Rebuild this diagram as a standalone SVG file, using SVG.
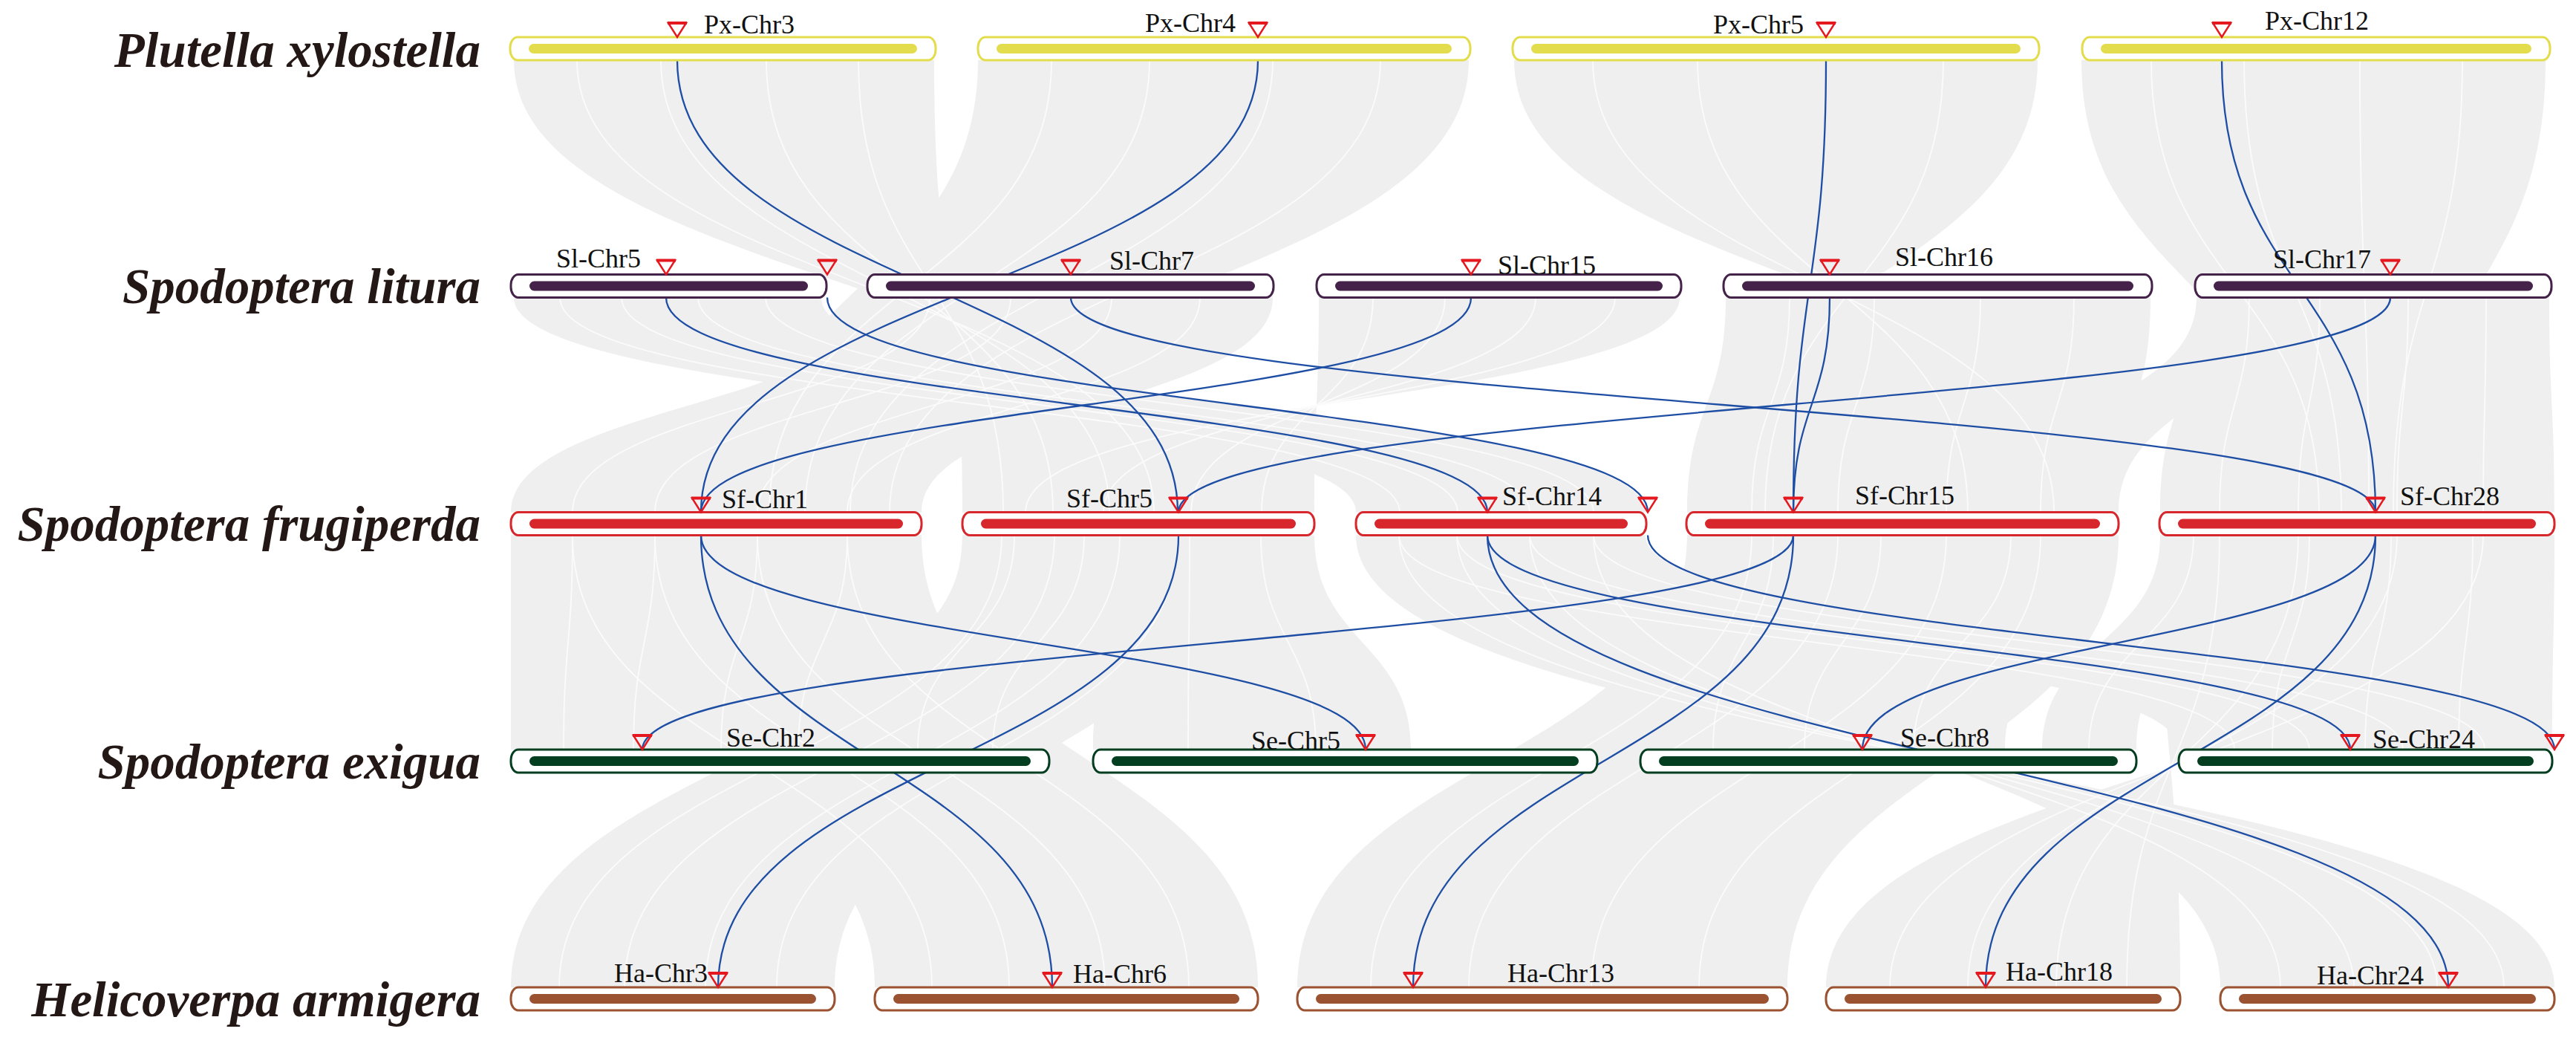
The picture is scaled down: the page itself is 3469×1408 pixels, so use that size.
<svg xmlns="http://www.w3.org/2000/svg" width="3469" height="1408" viewBox="0 0 3469 1408">
<defs>
<style>
.band{fill:#efefef;stroke:none}
.st{fill:none;stroke:#fbfbfb;stroke-width:1.8}
.lnk{fill:none;stroke:#1e4ea4;stroke-width:2.3}
.sp{font-family:"Liberation Serif","Times New Roman",serif;font-weight:bold;font-style:italic;font-size:67px;fill:#231815;text-anchor:end}
.lb{font-family:"Liberation Serif","Times New Roman",serif;font-size:36px;fill:#111}
.o{fill:#fff;stroke-width:3}
.px .o{stroke:#e3dd4e}.px .i{fill:#e3dd4e}
.sl .o{stroke:#45224a}.sl .i{fill:#45224a}
.sf .o{stroke:#d8272c}.sf .i{fill:#d8272c}
.se .o{stroke:#043e21}.se .i{fill:#043e21}
.ha .o{stroke:#9b5230}.ha .i{fill:#9b5230}
</style>
<g id="tri"><polygon points="-12,-19 12,-19 0,0" fill="none" stroke="#e5171f" stroke-width="2.5"/><line x1="-13" y1="-19" x2="13" y2="-19" stroke="#e5171f" stroke-width="4"/></g>
</defs>
<rect width="3469" height="1408" fill="#fff"/>

<g id="synteny-bands">
<!-- Px -> Sf -->
<path class="band" d="M692,81 C692,385 1600,385 1600,689.5 L1296,689.5 C1296,385 1258,385 1258,81 Z"/>
<path class="band" d="M1317,81 C1317,385 1000,385 1000,689.5 L1241,689.5 C1241,385 1978,385 1978,81 Z"/>
<path class="band" d="M2039,81 C2039,385 2853,385 2853,689.5 L2272,689.5 C2272,385 2744,385 2744,81 Z"/>
<path class="band" d="M2803,81 C2803,385 3100,385 3100,689.5 L3250,689.5 C3250,385 3428,385 3428,81 Z"/>
<!-- Sl -> Sf -->
<path class="band" d="M692,400.5 C692,545 1826,545 1826,689.5 L2216,689.5 C2216,545 1106,545 1106,400.5 Z"/>
<path class="band" d="M1171,400.5 C1171,545 688,545 688,689.5 L1241,689.5 C1241,545 1714,545 1714,400.5 Z"/>
<path class="band" d="M1776,400.5 C1776,545 1770,545 1770,689.5 L1296,689.5 C1296,545 2262,545 2262,400.5 Z"/>
<path class="band" d="M2324,400.5 C2324,545 2272,545 2272,689.5 L2853,689.5 C2853,545 2896,545 2896,400.5 Z"/>
<path class="band" d="M2958,400.5 C2958,545 2909,545 2909,689.5 L3440,689.5 C3440,545 3433,545 3433,400.5 Z"/>
<path class="band" d="M2958,400.5 C2958,545 2700,545 2700,689.5 L2853,689.5 C2853,545 3050,545 3050,400.5 Z"/>
<!-- Sf -> Se -->
<path class="band" d="M688,720.5 C688,865 688,865 688,1009 L1160,1009 C1160,865 1241,865 1241,720.5 Z"/>
<path class="band" d="M1296,720.5 C1296,865 1160,865 1160,1009 L1413,1009 C1413,865 1530,865 1530,720.5 Z"/>
<path class="band" d="M1530,720.5 C1530,865 1472,865 1472,1009 L1900,1009 C1900,865 1770,865 1770,720.5 Z"/>
<path class="band" d="M1826,720.5 C1826,865 2934,865 2934,1009 L3437,1009 C3437,865 2216,865 2216,720.5 Z"/>
<path class="band" d="M2272,720.5 C2272,865 2209,865 2209,1009 L2700,1009 C2700,865 2853,865 2853,720.5 Z"/>
<path class="band" d="M2909,720.5 C2909,865 2750,865 2750,1009 L2877,1009 C2877,865 3000,865 3000,720.5 Z"/>
<path class="band" d="M3000,720.5 C3000,865 2934,865 2934,1009 L3437,1009 C3437,865 3440,865 3440,720.5 Z"/>
<!-- Sf -> Ha -->
<path class="band" d="M1296,720.5 C1296,1025 688,1025 688,1329 L1124,1329 C1124,1025 1650,1025 1650,720.5 Z"/>
<path class="band" d="M688,720.5 C688,1025 1178,1025 1178,1329 L1694,1329 C1694,1025 1241,1025 1241,720.5 Z"/>
<path class="band" d="M2272,720.5 C2272,1025 1747,1025 1747,1329 L2407,1329 C2407,1025 2853,1025 2853,720.5 Z"/>
<path class="band" d="M2909,720.5 C2909,1025 2936,1025 2936,1329 L2459,1329 C2459,1025 3440,1025 3440,720.5 Z"/>
<path class="band" d="M1826,720.5 C1826,1025 3440,1025 3440,1329 L2990,1329 C2990,1025 2216,1025 2216,720.5 Z"/>
<!-- fibre texture -->
<path class="st" d="M777,81 C777,385 1554,385 1554,689.5 M890,81 C890,385 1494,385 1494,689.5 M1032,81 C1032,385 1418,385 1418,689.5 M1156,81 C1156,385 1351,385 1351,689.5"/>
<path class="st" d="M1416,81 C1416,385 1036,385 1036,689.5 M1548,81 C1548,385 1084,385 1084,689.5 M1714,81 C1714,385 1145,385 1145,689.5 M1859,81 C1859,385 1198,385 1198,689.5"/>
<path class="st" d="M2145,81 C2145,385 2766,385 2766,689.5 M2286,81 C2286,385 2650,385 2650,689.5 M2617,81 C2617,385 2377,385 2377,689.5"/>
<path class="st" d="M2897,81 C2897,385 3123,385 3123,689.5 M3022,81 C3022,385 3153,385 3153,689.5 M3178,81 C3178,385 3190,385 3190,689.5 M3316,81 C3316,385 3223,385 3223,689.5"/>
<path class="st" d="M754,400.5 C754,545 1885,545 1885,689.5 M837,400.5 C837,545 1963,545 1963,689.5 M940,400.5 C940,545 2060,545 2060,689.5 M1031,400.5 C1031,545 2146,545 2146,689.5"/>
<path class="st" d="M1252,400.5 C1252,545 771,545 771,689.5 M1361,400.5 C1361,545 882,545 882,689.5 M1497,400.5 C1497,545 1020,545 1020,689.5 M1616,400.5 C1616,545 1141,545 1141,689.5"/>
<path class="st" d="M1849,400.5 C1849,545 1699,545 1699,689.5 M1946,400.5 C1946,545 1604,545 1604,689.5 M2068,400.5 C2068,545 1486,545 1486,689.5 M2175,400.5 C2175,545 1381,545 1381,689.5"/>
<path class="st" d="M2410,400.5 C2410,545 2359,545 2359,689.5 M2524,400.5 C2524,545 2475,545 2475,689.5 M2667,400.5 C2667,545 2621,545 2621,689.5 M2793,400.5 C2793,545 2748,545 2748,689.5"/>
<path class="st" d="M3029,400.5 C3029,545 2989,545 2989,689.5 M3124,400.5 C3124,545 3095,545 3095,689.5 M3243,400.5 C3243,545 3228,545 3228,689.5 M3348,400.5 C3348,545 3344,545 3344,689.5"/>
<path class="st" d="M771,720.5 C771,865 759,865 759,1009 M882,720.5 C882,865 853,865 853,1009 M1020,720.5 C1020,865 971,865 971,1009 M1141,720.5 C1141,865 1075,865 1075,1009"/>
<path class="st" d="M1366,720.5 C1366,865 1236,865 1236,1009 M1460,720.5 C1460,865 1337,865 1337,1009 M1602,720.5 C1602,865 1600,865 1600,1009 M1698,720.5 C1698,865 1772,865 1772,1009"/>
<path class="st" d="M1884,720.5 C1884,865 3009,865 3009,1009 M1962,720.5 C1962,865 3110,865 3110,1009 M2060,720.5 C2060,865 3236,865 3236,1009 M2146,720.5 C2146,865 3346,865 3346,1009"/>
<path class="st" d="M2388,720.5 C2388,865 2307,865 2307,1009 M2533,720.5 C2533,865 2430,865 2430,1009 M2708,720.5 C2708,865 2577,865 2577,1009 M2954,720.5 C2954,865 2813,865 2813,1009"/>
<path class="st" d="M3110,720.5 C3110,865 3060,865 3060,1009 M3220,720.5 C3220,865 3185,865 3185,1009 M3330,720.5 C3330,865 3311,865 3311,1009"/>
<path class="st" d="M1349,720.5 C1349,1025 753,1025 753,1329 M1420,720.5 C1420,1025 841,1025 841,1329 M1508,720.5 C1508,1025 950,1025 950,1329 M1586,720.5 C1586,1025 1046,1025 1046,1329"/>
<path class="st" d="M771,720.5 C771,1025 1255,1025 1255,1329 M882,720.5 C882,1025 1359,1025 1359,1329 M1020,720.5 C1020,1025 1488,1025 1488,1329 M1141,720.5 C1141,1025 1601,1025 1601,1329"/>
<path class="st" d="M2359,720.5 C2359,1025 1846,1025 1846,1329 M2475,720.5 C2475,1025 1978,1025 1978,1329 M2621,720.5 C2621,1025 2143,1025 2143,1329 M2748,720.5 C2748,1025 2288,1025 2288,1329"/>
<path class="st" d="M2989,720.5 C2989,1025 2864,1025 2864,1329 M3095,720.5 C3095,1025 2769,1025 2769,1329 M3228,720.5 C3228,1025 2650,1025 2650,1329 M3344,720.5 C3344,1025 2545,1025 2545,1329"/>
<path class="st" d="M1884,720.5 C1884,1025 3372,1025 3372,1329 M1962,720.5 C1962,1025 3282,1025 3282,1329 M2060,720.5 C2060,1025 3170,1025 3170,1329 M2146,720.5 C2146,1025 3071,1025 3071,1329"/>
</g>

<g id="connectors">
<path class="lnk" d="M912,81 C912,385 1586,385 1586,689.5"/>
<path class="lnk" d="M1694,81 C1694,385 944,385 944,689.5"/>
<path class="lnk" d="M2459,81 C2459,385 2415,385 2415,689.5"/>
<path class="lnk" d="M2992,81 C2992,385 3199,385 3199,689.5"/>
<path class="lnk" d="M897,400.5 C897,545 2003,545 2003,689.5"/>
<path class="lnk" d="M1114,400.5 C1114,545 2219,545 2219,689.5"/>
<path class="lnk" d="M1442,400.5 C1442,545 3199,545 3199,689.5"/>
<path class="lnk" d="M1981,400.5 C1981,545 944,545 944,689.5"/>
<path class="lnk" d="M2464,400.5 C2464,545 2415,545 2415,689.5"/>
<path class="lnk" d="M3219,400.5 C3219,545 1587,545 1587,689.5"/>
<path class="lnk" d="M944,720.5 C944,1025 1417,1025 1417,1329"/>
<path class="lnk" d="M944,720.5 C944,865 1839,865 1839,1009"/>
<path class="lnk" d="M1587,720.5 C1587,1025 967,1025 967,1329"/>
<path class="lnk" d="M2003,720.5 C2003,865 3165,865 3165,1009"/>
<path class="lnk" d="M2003,720.5 C2003,1025 3297,1025 3297,1329"/>
<path class="lnk" d="M2219,720.5 C2219,865 3440,865 3440,1009"/>
<path class="lnk" d="M2415,720.5 C2415,865 865,865 865,1009"/>
<path class="lnk" d="M2415,720.5 C2415,1025 1903,1025 1903,1329"/>
<path class="lnk" d="M3199,720.5 C3199,865 2508,865 2508,1009"/>
<path class="lnk" d="M3199,720.5 C3199,1025 2674,1025 2674,1329"/>
</g>

<g id="species-labels">
<text class="sp" x="647" y="90">Plutella xylostella</text>
<text class="sp" x="647" y="408">Spodoptera litura</text>
<text class="sp" x="647" y="728">Spodoptera frugiperda</text>
<text class="sp" x="647" y="1048">Spodoptera exigua</text>
<text class="sp" x="647" y="1368">Helicoverpa armigera</text>
</g>

<g id="Px-Chr3" class="px"><rect class="o" x="687" y="50" width="573" height="31" rx="10" ry="14"/><rect class="i" x="712" y="59" width="523" height="13" rx="6.5"/><use href="#tri" x="912" y="50"/><text class="lb" x="948" y="45">Px-Chr3</text></g>
<g id="Px-Chr4" class="px"><rect class="o" x="1317" y="50" width="663" height="31" rx="10" ry="14"/><rect class="i" x="1342" y="59" width="613" height="13" rx="6.5"/><use href="#tri" x="1694" y="50"/><text class="lb" x="1542" y="43">Px-Chr4</text></g>
<g id="Px-Chr5" class="px"><rect class="o" x="2037" y="50" width="709" height="31" rx="10" ry="14"/><rect class="i" x="2062" y="59" width="659" height="13" rx="6.5"/><use href="#tri" x="2459" y="50"/><text class="lb" x="2307" y="45">Px-Chr5</text></g>
<g id="Px-Chr12" class="px"><rect class="o" x="2804" y="50" width="630" height="31" rx="10" ry="14"/><rect class="i" x="2829" y="59" width="580" height="13" rx="6.5"/><use href="#tri" x="2992" y="50"/><text class="lb" x="3050" y="40">Px-Chr12</text></g>

<g id="Sl-Chr5" class="sl"><rect class="o" x="688" y="369.5" width="425" height="31" rx="10" ry="14"/><rect class="i" x="713" y="378.5" width="375" height="13" rx="6.5"/><use href="#tri" x="897" y="369.5"/><use href="#tri" x="1114" y="369.5"/><text class="lb" x="749" y="360">Sl-Chr5</text></g>
<g id="Sl-Chr7" class="sl"><rect class="o" x="1168" y="369.5" width="547" height="31" rx="10" ry="14"/><rect class="i" x="1193" y="378.5" width="497" height="13" rx="6.5"/><use href="#tri" x="1442" y="369.5"/><text class="lb" x="1494" y="363">Sl-Chr7</text></g>
<g id="Sl-Chr15" class="sl"><rect class="o" x="1773" y="369.5" width="491" height="31" rx="10" ry="14"/><rect class="i" x="1798" y="378.5" width="441" height="13" rx="6.5"/><use href="#tri" x="1981" y="369.5"/><text class="lb" x="2017" y="369">Sl-Chr15</text></g>
<g id="Sl-Chr16" class="sl"><rect class="o" x="2321" y="369.5" width="577" height="31" rx="10" ry="14"/><rect class="i" x="2346" y="378.5" width="527" height="13" rx="6.5"/><use href="#tri" x="2464" y="369.5"/><text class="lb" x="2552" y="358">Sl-Chr16</text></g>
<g id="Sl-Chr17" class="sl"><rect class="o" x="2956" y="369.5" width="480" height="31" rx="10" ry="14"/><rect class="i" x="2981" y="378.5" width="430" height="13" rx="6.5"/><use href="#tri" x="3219" y="369.5"/><text class="lb" x="3061" y="361">Sl-Chr17</text></g>

<g id="Sf-Chr1" class="sf"><rect class="o" x="688" y="689.5" width="553" height="31" rx="10" ry="14"/><rect class="i" x="713" y="698.5" width="503" height="13" rx="6.5"/><use href="#tri" x="944" y="689.5"/><text class="lb" x="972" y="684">Sf-Chr1</text></g>
<g id="Sf-Chr5" class="sf"><rect class="o" x="1296" y="689.5" width="474" height="31" rx="10" ry="14"/><rect class="i" x="1321" y="698.5" width="424" height="13" rx="6.5"/><use href="#tri" x="1587" y="689.5"/><text class="lb" x="1436" y="683">Sf-Chr5</text></g>
<g id="Sf-Chr14" class="sf"><rect class="o" x="1826" y="689.5" width="391" height="31" rx="10" ry="14"/><rect class="i" x="1851" y="698.5" width="341" height="13" rx="6.5"/><use href="#tri" x="2003" y="689.5"/><use href="#tri" x="2219" y="689.5"/><text class="lb" x="2023" y="680">Sf-Chr14</text></g>
<g id="Sf-Chr15" class="sf"><rect class="o" x="2271" y="689.5" width="582" height="31" rx="10" ry="14"/><rect class="i" x="2296" y="698.5" width="532" height="13" rx="6.5"/><use href="#tri" x="2415" y="689.5"/><text class="lb" x="2498" y="679">Sf-Chr15</text></g>
<g id="Sf-Chr28" class="sf"><rect class="o" x="2908" y="689.5" width="532" height="31" rx="10" ry="14"/><rect class="i" x="2933" y="698.5" width="482" height="13" rx="6.5"/><use href="#tri" x="3199" y="689.5"/><text class="lb" x="3232" y="680">Sf-Chr28</text></g>

<g id="Se-Chr2" class="se"><rect class="o" x="688" y="1009" width="725" height="31" rx="10" ry="14"/><rect class="i" x="713" y="1018" width="675" height="13" rx="6.5"/><use href="#tri" x="865" y="1009"/><text class="lb" x="978" y="1005">Se-Chr2</text></g>
<g id="Se-Chr5" class="se"><rect class="o" x="1472" y="1009" width="679" height="31" rx="10" ry="14"/><rect class="i" x="1497" y="1018" width="629" height="13" rx="6.5"/><use href="#tri" x="1839" y="1009"/><text class="lb" x="1685" y="1009">Se-Chr5</text></g>
<g id="Se-Chr8" class="se"><rect class="o" x="2209" y="1009" width="668" height="31" rx="10" ry="14"/><rect class="i" x="2234" y="1018" width="618" height="13" rx="6.5"/><use href="#tri" x="2508" y="1009"/><text class="lb" x="2559" y="1005">Se-Chr8</text></g>
<g id="Se-Chr24" class="se"><rect class="o" x="2934" y="1009" width="503" height="31" rx="10" ry="14"/><rect class="i" x="2959" y="1018" width="453" height="13" rx="6.5"/><use href="#tri" x="3165" y="1009"/><use href="#tri" x="3440" y="1009"/><text class="lb" x="3195" y="1007">Se-Chr24</text></g>

<g id="Ha-Chr3" class="ha"><rect class="o" x="688" y="1329" width="436" height="31" rx="10" ry="14"/><rect class="i" x="713" y="1338" width="386" height="13" rx="6.5"/><use href="#tri" x="967" y="1329"/><text class="lb" x="827" y="1322">Ha-Chr3</text></g>
<g id="Ha-Chr6" class="ha"><rect class="o" x="1178" y="1329" width="516" height="31" rx="10" ry="14"/><rect class="i" x="1203" y="1338" width="466" height="13" rx="6.5"/><use href="#tri" x="1417" y="1329"/><text class="lb" x="1445" y="1323">Ha-Chr6</text></g>
<g id="Ha-Chr13" class="ha"><rect class="o" x="1747" y="1329" width="660" height="31" rx="10" ry="14"/><rect class="i" x="1772" y="1338" width="610" height="13" rx="6.5"/><use href="#tri" x="1903" y="1329"/><text class="lb" x="2030" y="1322">Ha-Chr13</text></g>
<g id="Ha-Chr18" class="ha"><rect class="o" x="2459" y="1329" width="477" height="31" rx="10" ry="14"/><rect class="i" x="2484" y="1338" width="427" height="13" rx="6.5"/><use href="#tri" x="2674" y="1329"/><text class="lb" x="2701" y="1320">Ha-Chr18</text></g>
<g id="Ha-Chr24" class="ha"><rect class="o" x="2990" y="1329" width="450" height="31" rx="10" ry="14"/><rect class="i" x="3015" y="1338" width="400" height="13" rx="6.5"/><use href="#tri" x="3297" y="1329"/><text class="lb" x="3120" y="1325">Ha-Chr24</text></g>
</svg>
